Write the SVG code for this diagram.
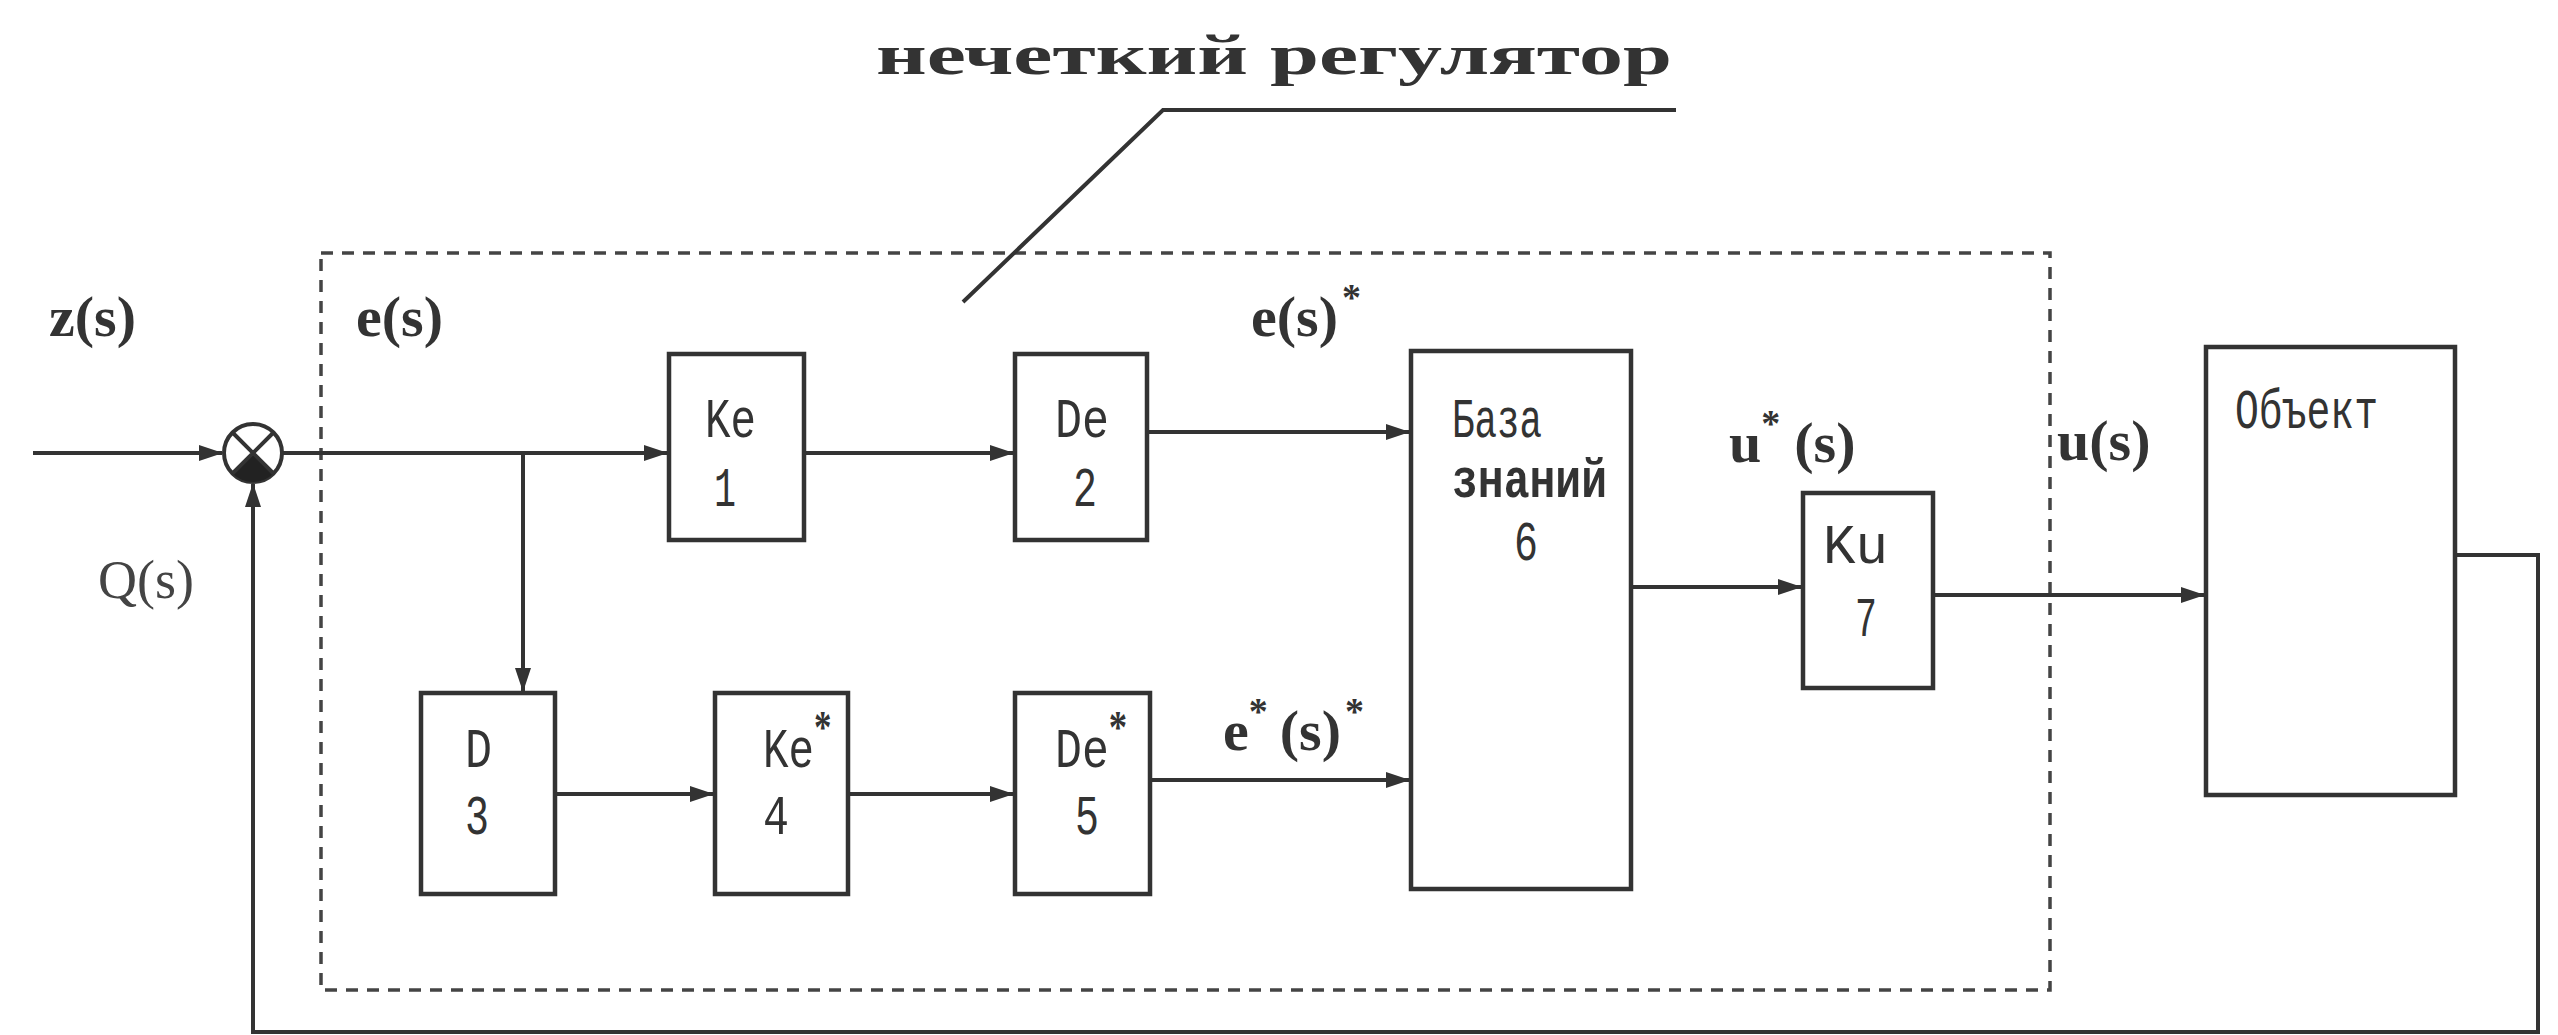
<svg xmlns="http://www.w3.org/2000/svg" width="2558" height="1035" viewBox="0 0 2558 1035">
  <defs>
    <marker id="arr" viewBox="0 0 24 16" refX="23" refY="8" markerWidth="24" markerHeight="16" markerUnits="userSpaceOnUse" orient="auto">
      <path d="M0,0 L24,8 L0,16 Z" fill="#333"/>
    </marker>
    <style>
      .blk { fill: #fff; stroke: #333; stroke-width: 4.5; }
      .wire { fill: none; stroke: #333; stroke-width: 4; }
      .dash { fill: none; stroke: #444; stroke-width: 3.5; stroke-dasharray: 12 9; }
      .lbl { font-family: "Liberation Mono", "Courier New", monospace; font-size: 56px; fill: #333; }
      .sig { font-family: "Liberation Serif", "Times New Roman", serif; font-size: 58px; font-weight: bold; fill: #333; }
      .sig2 { font-family: "Liberation Serif", "Times New Roman", serif; font-size: 54px; fill: #444; }
      .sup { font-size: 38px; }
      .star { font-family: "Liberation Serif", "Times New Roman", serif; font-size: 46px; font-weight: bold; }
    </style>
  </defs>
  <rect width="2558" height="1035" fill="#fff"/>

  <!-- fuzzy controller boundary -->
  <rect class="dash" x="321" y="253" width="1729" height="737"/>
  <g id="title">
    <text class="sig" x="876" y="74" font-size="76" textLength="796" lengthAdjust="spacingAndGlyphs">нечеткий регулятор</text>
    <path class="wire" d="M1676,110 H1163 L963,302" stroke-width="3.5"/>
  </g>

  <!-- connectors -->
  <g id="connectors">
    <path class="wire" d="M33,453 H222" marker-end="url(#arr)"/>
    <path class="wire" d="M282,453 H667" marker-end="url(#arr)"/>
    <path class="wire" d="M523,453 V691" marker-end="url(#arr)"/>
    <path class="wire" d="M804,453 H1013" marker-end="url(#arr)"/>
    <path class="wire" d="M1147,432 H1409" marker-end="url(#arr)"/>
    <path class="wire" d="M555,794 H713" marker-end="url(#arr)"/>
    <path class="wire" d="M848,794 H1013" marker-end="url(#arr)"/>
    <path class="wire" d="M1150,780 H1409" marker-end="url(#arr)"/>
    <path class="wire" d="M1631,587 H1801" marker-end="url(#arr)"/>
    <path class="wire" d="M1933,595 H2204" marker-end="url(#arr)"/>
    <path class="wire" d="M2455,555 H2538 V1032 H253 V484" marker-end="url(#arr)"/>
  </g>

  <!-- summing junction -->
  <g id="sum">
    <circle cx="253" cy="453" r="29" fill="#fff" stroke="#333" stroke-width="4"/>
    <path d="M253,453 L273.5,473.5 A29,29 0 0 1 232.5,473.5 Z" fill="#222"/>
    <path class="wire" d="M232.5,432.5 L273.5,473.5 M273.5,432.5 L232.5,473.5" stroke-width="3"/>
  </g>

  <g id="n1">
    <rect class="blk" x="669" y="354" width="135" height="186"/>
    <text class="lbl" x="705" y="437" textLength="51" lengthAdjust="spacingAndGlyphs">Ke</text>
    <text class="lbl" x="714" y="506" textLength="22" lengthAdjust="spacingAndGlyphs">1</text>
  </g>
  <g id="n2">
    <rect class="blk" x="1015" y="354" width="132" height="186"/>
    <text class="lbl" x="1055" y="437" textLength="54" lengthAdjust="spacingAndGlyphs">De</text>
    <text class="lbl" x="1073" y="506" textLength="24" lengthAdjust="spacingAndGlyphs">2</text>
  </g>
  <g id="n3">
    <rect class="blk" x="421" y="693" width="134" height="201"/>
    <text class="lbl" x="465" y="767" textLength="27" lengthAdjust="spacingAndGlyphs">D</text>
    <text class="lbl" x="465" y="834" textLength="24" lengthAdjust="spacingAndGlyphs">3</text>
  </g>
  <g id="n4">
    <rect class="blk" x="715" y="693" width="133" height="201"/>
    <text class="lbl" transform="translate(763,767) scale(0.76,1)">Ke<tspan class="star" dy="-24">*</tspan></text>
    <text class="lbl" x="763" y="834" textLength="26" lengthAdjust="spacingAndGlyphs">4</text>
  </g>
  <g id="n5">
    <rect class="blk" x="1015" y="693" width="135" height="201"/>
    <text class="lbl" transform="translate(1055,767) scale(0.8,1)">De<tspan class="star" dy="-24">*</tspan></text>
    <text class="lbl" x="1075" y="834" textLength="24" lengthAdjust="spacingAndGlyphs">5</text>
  </g>
  <g id="n6">
    <rect class="blk" x="1411" y="351" width="220" height="538"/>
    <text class="lbl" x="1452" y="437" textLength="90" lengthAdjust="spacingAndGlyphs">База</text>
    <text class="lbl" x="1452" y="497" font-weight="bold" font-size="44" textLength="155" lengthAdjust="spacingAndGlyphs">знаний</text>
    <text class="lbl" x="1514" y="560" textLength="24" lengthAdjust="spacingAndGlyphs">6</text>
  </g>
  <g id="n7">
    <rect class="blk" x="1803" y="493" width="130" height="195"/>
    <text class="lbl" x="1823" y="563" textLength="65" lengthAdjust="spacingAndGlyphs">Ku</text>
    <text class="lbl" x="1855" y="636" textLength="22" lengthAdjust="spacingAndGlyphs">7</text>
  </g>
  <g id="n8">
    <rect class="blk" x="2206" y="347" width="249" height="448"/>
    <text class="lbl" x="2235" y="428" font-size="50" textLength="143" lengthAdjust="spacingAndGlyphs">Объект</text>
  </g>

  <!-- signal labels -->
  <g id="labels">
    <text class="sig" x="49" y="336">z(s)</text>
    <text class="sig" x="356" y="336">e(s)</text>
    <text class="sig" x="1251" y="336">e(s)<tspan class="sup" dx="4" dy="-26">*</tspan></text>
    <text class="sig2" x="98" y="598">Q(s)</text>
    <text class="sig" x="1223" y="750">e<tspan class="sup" dy="-26">*</tspan><tspan dx="12" dy="26">(s)</tspan><tspan class="sup" dx="4" dy="-26">*</tspan></text>
    <text class="sig" x="1729" y="462">u<tspan class="sup" dy="-26">*</tspan><tspan dx="14" dy="26">(s)</tspan></text>
    <text class="sig" x="2057" y="460">u(s)</text>
  </g>
</svg>
